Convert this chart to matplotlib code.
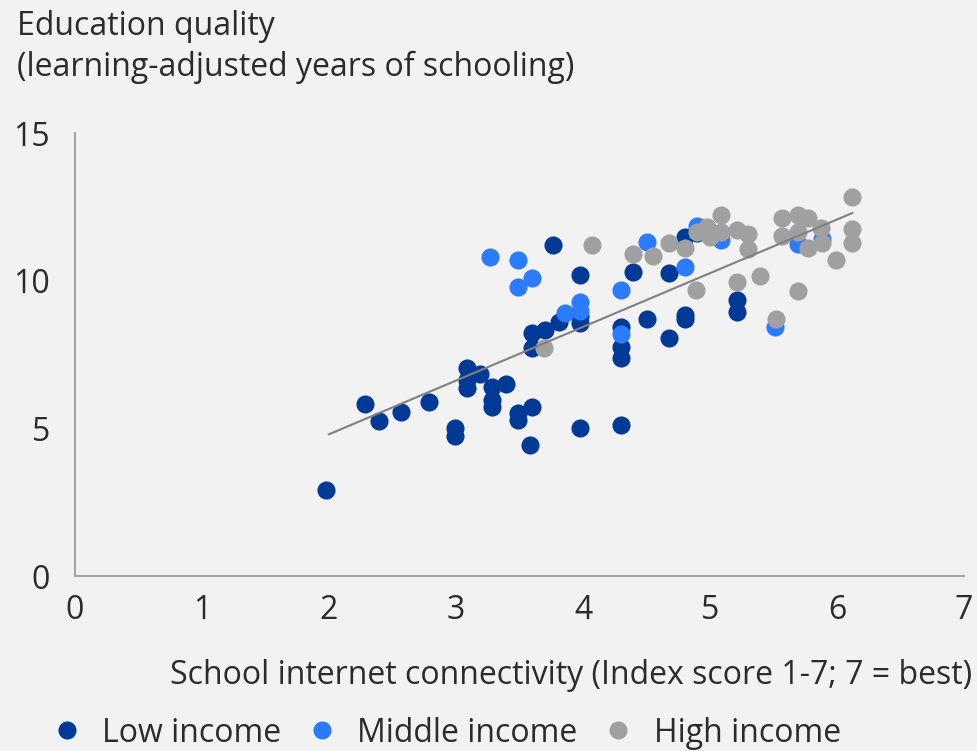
import matplotlib.pyplot as plt
from matplotlib.lines import Line2D
import numpy as np

plt.rcParams['font.family'] = ['Open Sans', 'DejaVu Sans']

# low income
low_x = [1.98, 2.28, 2.39, 2.57, 2.79, 2.99, 2.99, 3.09, 3.09, 3.09, 3.19, 3.28, 3.28, 3.28,
         3.39, 3.49, 3.49, 3.60, 3.58, 3.60, 3.60, 3.70, 3.76, 3.81, 3.98, 3.98, 3.98, 3.98,
         4.30, 4.30, 4.30, 4.30, 4.39, 4.50, 4.68, 4.68, 4.80, 4.80, 4.80, 4.90, 5.21, 5.21]
low_y = [2.91, 5.82, 5.25, 5.55, 5.89, 5.01, 4.74, 7.04, 6.64, 6.37, 6.84, 6.40, 5.96, 5.72,
         6.50, 5.52, 5.28, 5.72, 4.44, 8.23, 7.72, 8.33, 11.21, 8.60, 10.19, 8.80, 8.57, 5.01,
         8.43, 7.75, 7.38, 5.11, 10.29, 8.70, 10.26, 8.06, 11.48, 8.84, 8.70, 11.60, 9.35, 8.94]

# middle income
mid_x = [3.27, 3.49, 3.49, 3.60, 3.86, 3.98, 3.98, 4.30, 4.30, 4.50, 4.80, 4.90, 5.09,
         5.51, 5.69, 5.88]
mid_y = [10.80, 10.70, 9.79, 10.09, 8.91, 9.28, 8.97, 9.69, 8.20, 11.31, 10.46, 11.85, 11.38,
         8.43, 11.24, 11.41]

# high income
high_x = [3.69, 4.07, 4.39, 4.55, 4.68, 4.80, 4.89, 4.90, 4.98, 5.00, 5.09, 5.09, 5.21, 5.30,
          5.30, 5.21, 5.39, 5.52, 5.57, 5.57, 5.69, 5.69, 5.77, 5.77, 5.87, 5.88, 5.69, 5.99,
          6.12, 6.12, 6.12]
high_y = [7.72, 11.21, 10.90, 10.84, 11.28, 11.11, 9.69, 11.65, 11.82, 11.48, 12.22, 11.65,
          11.72, 11.58, 11.07, 9.96, 10.16, 8.70, 12.12, 11.51, 12.22, 11.65, 12.12, 11.10,
          11.78, 11.28, 9.65, 10.70, 12.83, 11.75, 11.28]

trend_x = [2.0, 6.12]
trend_y = [4.8, 12.29]

labels = ['Low income', 'Middle income', 'High income']

bg = '#f2f2f2'
txt = '#2b2b2b'
c_low = '#003a96'
c_mid = '#2b7bfe'
c_high = '#a0a0a0'
fs = 23

fig = plt.figure(figsize=(9.78, 7.51), dpi=100, facecolor=bg)
ax = fig.add_axes([0.0767, 0.233, 0.909, 0.5899])
ax.set_facecolor(bg)

ax.scatter(low_x, low_y, s=170, color=c_low, linewidths=0, zorder=3)
ax.scatter(mid_x, mid_y, s=170, color=c_mid, linewidths=0, zorder=3)
ax.scatter(high_x, high_y, s=170, color=c_high, linewidths=0, zorder=3)
ax.plot(trend_x, trend_y, color='#808080', linewidth=1.5, zorder=4)

ax.set_xlim(0, 7)
ax.set_ylim(0, 15)
ax.set_xticks(range(0, 8))
ax.set_yticks([0, 5, 10, 15])
ax.tick_params(length=0, labelsize=fs, labelcolor=txt)
ax.tick_params(axis='x', pad=13)
ax.tick_params(axis='y', pad=18)
for s in ['top', 'right']:
    ax.spines[s].set_visible(False)
for s in ['left', 'bottom']:
    ax.spines[s].set_color('#a6a6a6')
    ax.spines[s].set_linewidth(1.5)

fig.text(17/978, 1 - 35/751, 'Education quality', fontsize=fs, color=txt, va='baseline')
fig.text(17/978, 1 - 76/751, '(learning-adjusted years of schooling)', fontsize=fs,
         color=txt, va='baseline')
fig.text(972/978, 1 - 684/751, 'School internet connectivity (Index score 1-7; 7 = best)',
         fontsize=fs, color=txt, ha='right', va='baseline')

handles = [Line2D([], [], linestyle='none', marker='o', markersize=13, markeredgewidth=0,
                  markerfacecolor=c) for c in (c_low, c_mid, c_high)]
fig.legend(handles, labels, loc='center left', bbox_to_anchor=(51/978, 1 - 733/751),
           ncol=3, frameon=False, fontsize=fs, labelcolor=txt, handletextpad=0.6,
           columnspacing=0.78, borderpad=0, borderaxespad=0, handlelength=1.0)

plt.savefig('out.png', dpi=100, facecolor=bg)
